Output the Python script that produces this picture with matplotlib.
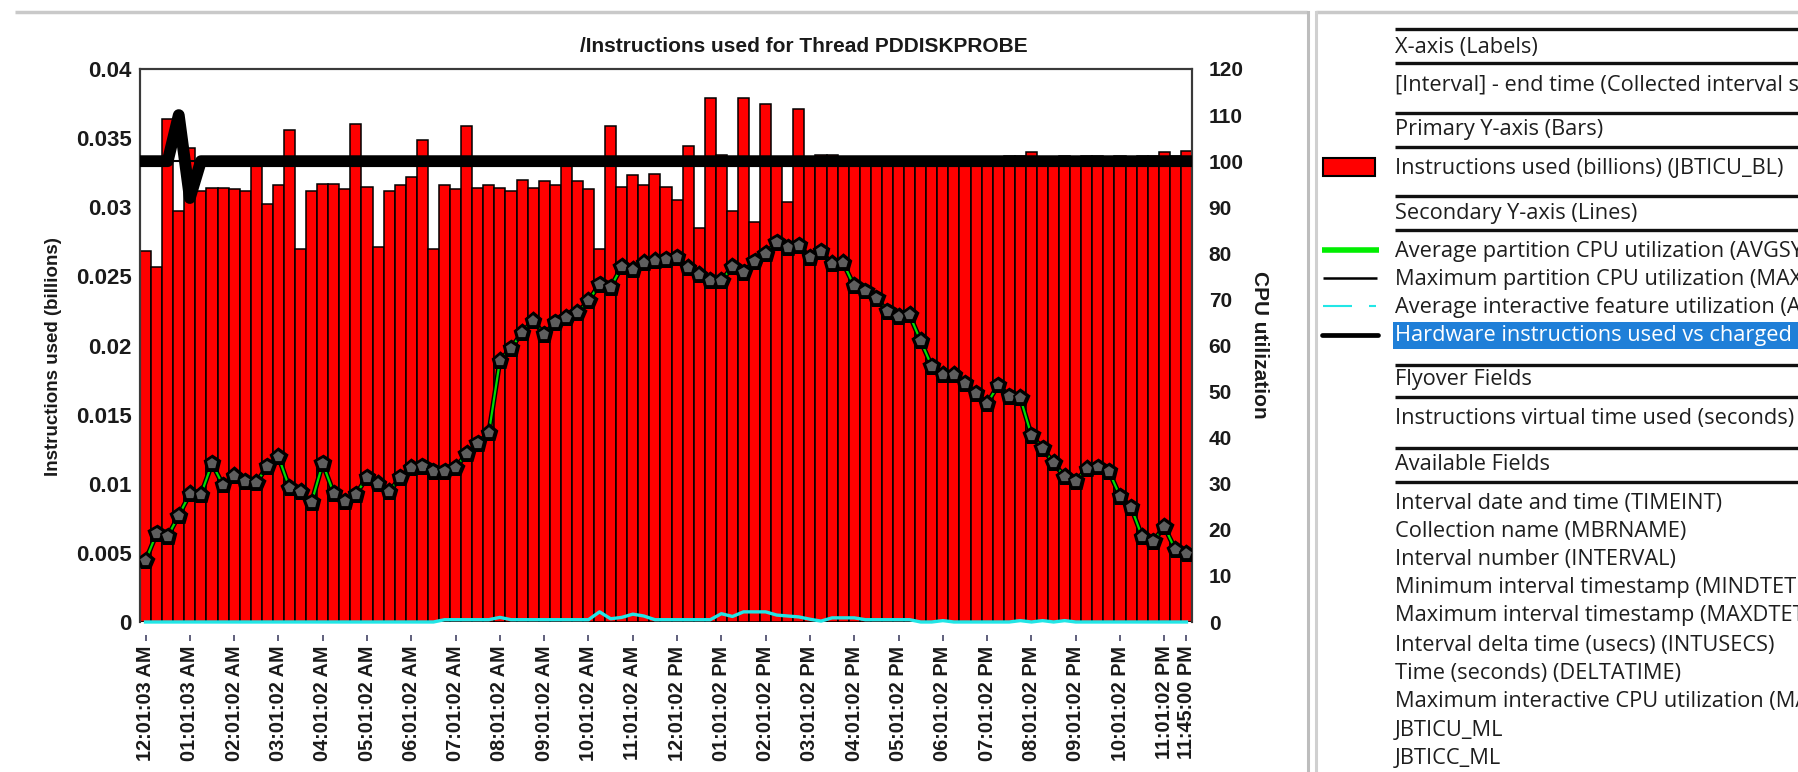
import matplotlib
matplotlib.use("Agg")
import matplotlib.pyplot as plt
import matplotlib.patheffects as pe
from matplotlib.patches import Rectangle
import numpy as np

W, H = 1798, 772

# one value per 15 minute collection interval
instructions_bl = [
    0.0268, 0.0257, 0.0364, 0.0297, 0.0343, 0.0312, 0.0314, 0.0314, 0.0313, 0.0312,
    0.0330, 0.0302, 0.0316, 0.0356, 0.0270, 0.0312, 0.0317, 0.0317, 0.0313, 0.0360,
    0.0315, 0.0271, 0.0312, 0.0316, 0.0322, 0.0349, 0.0270, 0.0316, 0.0313, 0.0359,
    0.0314, 0.0316, 0.0314, 0.0312, 0.0320, 0.0314, 0.0319, 0.0316, 0.0331, 0.0319,
    0.0313, 0.0270, 0.0359, 0.0315, 0.0323, 0.0316, 0.0324, 0.0315, 0.0305, 0.0344,
    0.0285, 0.0379, 0.0338, 0.0297, 0.0379, 0.0289, 0.0375, 0.0331, 0.0304, 0.0371,
    0.0331, 0.0338, 0.0338, 0.0333, 0.0333, 0.0333, 0.0333, 0.0333, 0.0333, 0.0333,
    0.0333, 0.0333, 0.0333, 0.0333, 0.0333, 0.0333, 0.0333, 0.0333, 0.0337, 0.0337,
    0.0340, 0.0333, 0.0333, 0.0337, 0.0333, 0.0337, 0.0337, 0.0333, 0.0337, 0.0333,
    0.0337, 0.0337, 0.0340, 0.0337, 0.0341,
]

avg_partition_cpu = [
    13.3, 19.2, 18.6, 23.1, 27.8, 27.6, 34.4, 29.7, 31.7, 30.5,
    30.2, 33.8, 35.9, 29.1, 28.3, 26.0, 34.4, 27.9, 26.2, 27.7,
    31.4, 30.0, 28.2, 31.4, 33.4, 33.8, 32.7, 32.7, 33.5, 36.5,
    38.8, 41.0, 56.7, 59.4, 62.8, 65.4, 62.4, 65.0, 66.0, 67.1,
    69.7, 73.3, 72.6, 77.1, 76.4, 77.9, 78.4, 78.7, 79.1, 76.9,
    75.3, 74.0, 74.0, 77.1, 75.9, 78.3, 79.9, 82.4, 81.3, 81.7,
    79.1, 80.4, 77.7, 77.9, 72.9, 71.8, 70.2, 67.4, 66.2, 66.6,
    61.0, 55.5, 53.6, 53.6, 51.8, 49.6, 47.4, 51.4, 49.0, 48.6,
    40.5, 37.7, 34.5, 31.5, 30.5, 33.3, 33.6, 32.7, 27.3, 24.9,
    18.5, 17.5, 20.7, 15.7, 14.8,
]

max_partition_cpu = [100.0] * 95

avg_interactive = [
    0, 0, 0, 0, 0, 0, 0, 0, 0, 0,
    0, 0, 0, 0, 0, 0, 0, 0, 0, 0,
    0, 0, 0, 0, 0, 0, 0, 0.5, 0.5, 0.5,
    0.5, 0.5, 1.0, 0.5, 0.5, 0.5, 0.5, 0.5, 0.5, 0.5,
    0.5, 2.2, 0.7, 1.0, 1.7, 1.3, 0.5, 0.5, 0.5, 0.5,
    0.5, 0.5, 1.8, 1.2, 2.2, 2.2, 2.2, 1.5, 1.3, 1.1,
    0.6, 0.2, 0.9, 0.9, 0.9, 0.5, 0.5, 0.5, 0.5, 0.5,
    0, 0, 0.3, 0, 0, 0, 0, 0, 0, 0.3,
    0, 0.3, 0, 0.3, 0, 0, 0, 0, 0, 0,
    0, 0, 0, 0, 0,
]

hw_ratio = [100, 100, 100, 110, 92] + [100] * 90

tick_pos = list(range(0, 93, 4)) + [94]
tick_labels = [
    "12:01:03 AM", "01:01:03 AM", "02:01:02 AM", "03:01:02 AM", "04:01:02 AM",
    "05:01:02 AM", "06:01:02 AM", "07:01:02 AM", "08:01:02 AM", "09:01:02 AM",
    "10:01:02 AM", "11:01:02 AM", "12:01:02 PM", "01:01:02 PM", "02:01:02 PM",
    "03:01:02 PM", "04:01:02 PM", "05:01:02 PM", "06:01:02 PM", "07:01:02 PM",
    "08:01:02 PM", "09:01:02 PM", "10:01:02 PM", "11:01:02 PM", "11:45:00 PM",
]

left_ticks = [0, 0.005, 0.01, 0.015, 0.02, 0.025, 0.03, 0.035, 0.04]
left_tick_labels = ["0", "0.005", "0.01", "0.015", "0.02", "0.025", "0.03", "0.035", "0.04"]
right_ticks = list(range(0, 121, 10))

plt.rcParams['font.family'] = ['Liberation Sans', 'DejaVu Sans']
TXT = '#1a1a1a'
FS = 15

fig = plt.figure(figsize=(W / 100, H / 100), dpi=100)
fig.patch.set_facecolor('white')

# ---- side panel and window frame (pixel coordinates) ----
pax = fig.add_axes([0, 0, 1, 1], zorder=0)
pax.set_xlim(0, W)
pax.set_ylim(H, 0)
pax.axis('off')

frame_gray = '#c9c9c9'
pax.plot([15, 1307], [12, 12], color=frame_gray, lw=2.5, solid_capstyle='butt')
pax.plot([1316, W], [12, 12], color=frame_gray, lw=2.5, solid_capstyle='butt')
pax.plot([1308, 1308], [12, H], color='#bdbdbd', lw=2.2)
pax.plot([1316, 1316], [12, H], color='#d0d0d0', lw=2.2)

panel_font = dict(family=['Open Sans', 'DejaVu Sans'], fontsize=15.7, color='#1e1e1e', va='center')
text_x = 1395

for ry in [29, 63, 113, 147, 196, 230, 365, 397, 448, 482]:
    pax.plot([text_x, W], [ry, ry], color='#111111', lw=2.4, solid_capstyle='butt')

# highlighted row
pax.add_patch(Rectangle((1393, 322), W - 1393, 27, facecolor='#1f7fd8', edgecolor='none'))

panel_rows = [
    (47, "X-axis (Labels)"),
    (85, "[Interval] - end time (Collected interval size)"),
    (130, "Primary Y-axis (Bars)"),
    (168, "Instructions used (billions) (JBTICU_BL)"),
    (213, "Secondary Y-axis (Lines)"),
    (252, "Average partition CPU utilization (AVGSYSCPU)"),
    (279, "Maximum partition CPU utilization (MAXSYSCPU)"),
    (307, "Average interactive feature utilization (AVGINTCPU)"),
    (380, "Flyover Fields"),
    (419, "Instructions virtual time used (seconds) (JBTICV)"),
    (465, "Available Fields"),
    (503, "Interval date and time (TIMEINT)"),
    (532, "Collection name (MBRNAME)"),
    (560, "Interval number (INTERVAL)"),
    (588, "Minimum interval timestamp (MINDTETIM)"),
    (616, "Maximum interval timestamp (MAXDTETIM)"),
    (645, "Interval delta time (usecs) (INTUSECS)"),
    (673, "Time (seconds) (DELTATIME)"),
    (702, "Maximum interactive CPU utilization (MAXINTCPU)"),
    (730, "JBTICU_ML"),
    (758, "JBTICC_ML"),
]
for ry, txt in panel_rows:
    pax.text(text_x, ry, txt, **panel_font)
pax.text(text_x, 335, "Hardware instructions used vs charged ratio",
         **{**panel_font, 'color': 'white'})

# legend swatches
pax.add_patch(Rectangle((1323, 158), 52, 18, facecolor='#ff0000', edgecolor='black', lw=1.5))
pax.plot([1322, 1379], [250, 250], color='#00ee00', lw=4, solid_capstyle='butt')
pax.plot([1323, 1377], [278, 278], color='black', lw=1.8, solid_capstyle='butt')
pax.plot([1323, 1352], [306, 306], color='#22e6e6', lw=1.5, solid_capstyle='butt')
pax.plot([1369, 1376], [306, 306], color='#22e6e6', lw=1.5, solid_capstyle='butt')
pax.plot([1322, 1378], [335, 335], color='black', lw=3.4, solid_capstyle='round')

# ---- main chart ----
ax = fig.add_axes([140 / W, 1 - 622 / H, (1192 - 140) / W, (622 - 69) / H], zorder=2)
# tick marks sit a little below the plot box
ax.spines['bottom'].set_position(('outward', 9))
ax.spines['bottom'].set_color('none')
for side in ['top', 'left', 'right']:
    ax.spines[side].set_color('#3a3a3a')
    ax.spines[side].set_linewidth(1.5)

x = np.arange(len(instructions_bl))
ax.bar(x, instructions_bl, width=1.0, color='#ff0000', edgecolor='black', linewidth=1.1, zorder=2)
ax.axhline(0, color='#2a2a2a', lw=1.5, zorder=1)
ax.set_xlim(-0.5, len(x) - 0.5)
ax.set_ylim(0, 0.04)
ax.set_yticks(left_ticks)
ax.set_yticklabels(left_tick_labels, fontweight='bold', fontsize=16, color=TXT)
ax.tick_params(axis='y', length=0, pad=6)

ax.set_xticks(tick_pos)
ax.set_xticklabels(tick_labels, rotation=90, fontweight='bold', fontsize=14.3, color=TXT)
ax.tick_params(axis='x', length=4, width=1.2, color='#444466', pad=4)

ax2 = ax.twinx()
ax2.set_ylim(0, 120)
ax2.set_yticks(right_ticks)
ax2.set_yticklabels([str(t) for t in right_ticks], fontweight='bold', fontsize=FS, color=TXT)
ax2.tick_params(axis='y', length=0, pad=12)
ax2.spines['bottom'].set_visible(False)
for side in ['top', 'left', 'right']:
    ax2.spines[side].set_color('#3a3a3a')
    ax2.spines[side].set_linewidth(1.5)

ax2.plot(x, avg_interactive, color='#22e6e6', lw=2.4, zorder=3, clip_on=False)
ax2.plot(x, max_partition_cpu, color='black', lw=1.5, zorder=3)
ax2.plot(x, avg_partition_cpu, color='#00dd00', lw=1.6, marker='p', ms=9.5,
         mfc='#5e5e5e', mec='black', mew=1.3, zorder=4,
         path_effects=[pe.Stroke(linewidth=3.6, foreground='black'), pe.Normal()])
ax2.plot(x, hw_ratio, color='black', lw=8.5, solid_joinstyle='round',
         solid_capstyle='projecting', zorder=5)

fig.text(804 / W, 1 - 46 / H, "/Instructions used for Thread PDDISKPROBE",
         ha='center', va='center', fontsize=FS, fontweight='bold', color=TXT)
fig.text(54 / W, 1 - 357 / H, "Instructions used (billions)", rotation=90,
         ha='center', va='center', fontsize=13.5, fontweight='bold', color=TXT)
fig.text(1259 / W, 1 - 345 / H, "CPU utilization", rotation=-90,
         ha='center', va='center', fontsize=FS, fontweight='bold', color=TXT)

fig.savefig("out.png", dpi=100)
